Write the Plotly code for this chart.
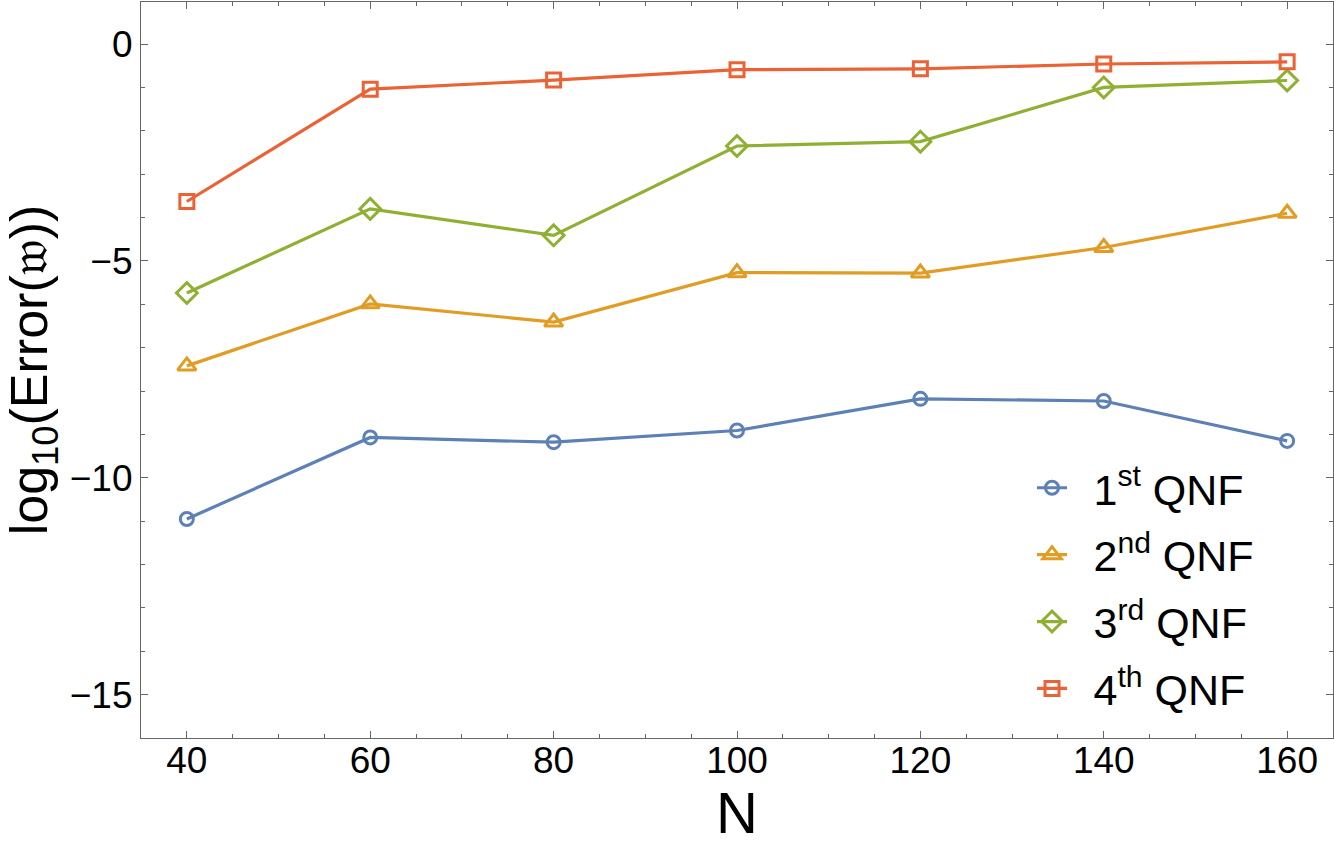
import plotly.graph_objects as go

N = [40, 60, 80, 100, 120, 140, 160]
qnf1 = [-10.95, -9.07, -9.18, -8.91, -8.18, -8.23, -9.15]
qnf2 = [-7.42, -5.99, -6.41, -5.27, -5.28, -4.69, -3.90]
qnf3 = [-5.74, -3.80, -4.41, -2.35, -2.25, -1.00, -0.84]
qnf4 = [-3.63, -1.04, -0.83, -0.59, -0.57, -0.46, -0.41]

names = ["\u20021<sup>st</sup> QNF", "\u20022<sup>nd</sup> QNF", "\u20023<sup>rd</sup> QNF", "\u20024<sup>th</sup> QNF"]
series = [qnf1, qnf2, qnf3, qnf4]
colors = ["#5E81B5", "#E19C24", "#8FB032", "#EB6235"]
symbols = ["circle-open", "triangle-up-open", "diamond-open", "square-open"]
sizes = [13, 16, 16, 14]

fig = go.Figure()
for i, (nm, ys, c, s, sz) in enumerate(zip(names, series, colors, symbols, sizes)):
    fig.add_trace(go.Scatter(
        x=N, y=ys, name=nm, mode="lines+markers",
        line=dict(color=c, width=3.2),
        marker=dict(symbol=s, size=sz, color=c, line=dict(color=c, width=3)),
        legendgroup=f"g{i}",
    ))

axis_common = dict(
    showline=True, linecolor="#666666", linewidth=1.2, mirror="allticks",
    ticks="inside", ticklen=7, tickcolor="#666666", tickwidth=1,
    showgrid=False, zeroline=False, automargin=False,
    tickfont=dict(family="Liberation Sans, Arial, sans-serif", size=37, color="black"),
)

fig.update_xaxes(
    range=[35, 165], tickvals=[40, 60, 80, 100, 120, 140, 160],
    minor=dict(dtick=5, tick0=0, ticks="inside", ticklen=4, tickcolor="#666666", showgrid=False),
    title=dict(text="N", font=dict(family="Liberation Sans, Arial, sans-serif", size=58, color="black"), standoff=2),
    ticklabelstandoff=-11,
    **axis_common,
)
fig.update_yaxes(
    range=[-16, 0.97], tickvals=[-15, -10, -5, 0], ticktext=["−15", "−10", "−5", "0"],
    minor=dict(dtick=1, tick0=0, ticks="inside", ticklen=4, tickcolor="#666666", showgrid=False),
    title=dict(text="log<sub>10</sub>(Error(𝔴))", font=dict(family="Liberation Sans, DejaVu Sans, Arial, sans-serif", size=52, color="black"), standoff=10),
    **axis_common,
)

fig.update_layout(
    width=1334, height=851,
    margin=dict(l=141, r=1, t=2, b=113),
    paper_bgcolor="white", plot_bgcolor="white",
    showlegend=True,
    legend=dict(
        x=0.7475, y=0.02, xanchor="left", yanchor="bottom",
        font=dict(family="Liberation Sans, Arial, sans-serif", size=43, color="black"),
        bgcolor="rgba(255,255,255,0)", tracegroupgap=8, itemwidth=30,
    ),
)

fig.write_html("out.html", config={"displayModeBar": False},
               post_script="document.body.style.margin='0';document.body.style.overflow='hidden';")
